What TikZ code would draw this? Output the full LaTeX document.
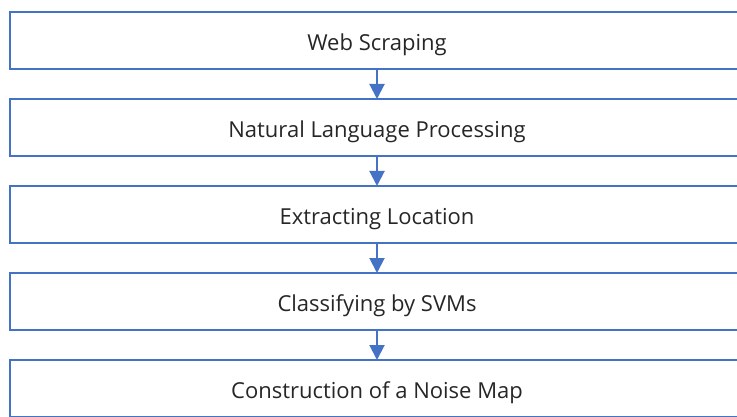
\documentclass[tikz,border=0pt]{standalone}
\usepackage{fontspec}
\setmainfont{Open Sans}
\usetikzlibrary{positioning,arrows.meta}
\definecolor{boxblue}{RGB}{68,114,196}
\definecolor{txtgray}{RGB}{38,38,38}
\tikzset{
  stagebox/.style={draw=boxblue, line width=2pt, outer sep=0pt, inner sep=0pt,
    minimum width=734pt, minimum height=57pt},
  stagetext/.style={text=txtgray, font=\fontsize{22}{26}\selectfont, yshift=-4.5pt},
  flowarrow/.style={boxblue, line width=2pt, -{Triangle[length=15pt,width=15pt]}}
}
\begin{document}
\begin{tikzpicture}[x=1pt,y=1pt]
\def\GAP{30pt}
\clip (0,0) rectangle (737,-417);
\node[stagebox, anchor=north west] (scrape) at (10,-12) {};
\node[stagebox, below=\GAP of scrape] (nlp) {};
\node[stagebox, below=\GAP of nlp] (loc) {};
\node[stagebox, below=\GAP of loc] (svm) {};
\node[stagebox, below=\GAP of svm] (map) {};
% labels, a little below the box centres
\node[stagetext] (scrapetxt) at (scrape) {Web Scraping};
\node[stagetext] (nlptxt) at (nlp) {Natural Language Processing};
\node[stagetext] (loctxt) at (loc) {Extracting Location};
\node[stagetext] (svmtxt) at (svm) {Classifying by SVMs};
\node[stagetext] (maptxt) at (map) {Construction of a Noise Map};
% arrows between stages
\draw[flowarrow] (scrape) -- (nlp);
\draw[flowarrow] (nlp) -- (loc);
\draw[flowarrow] (loc) -- (svm);
\draw[flowarrow] (svm) -- (map);
\end{tikzpicture}
\end{document}
